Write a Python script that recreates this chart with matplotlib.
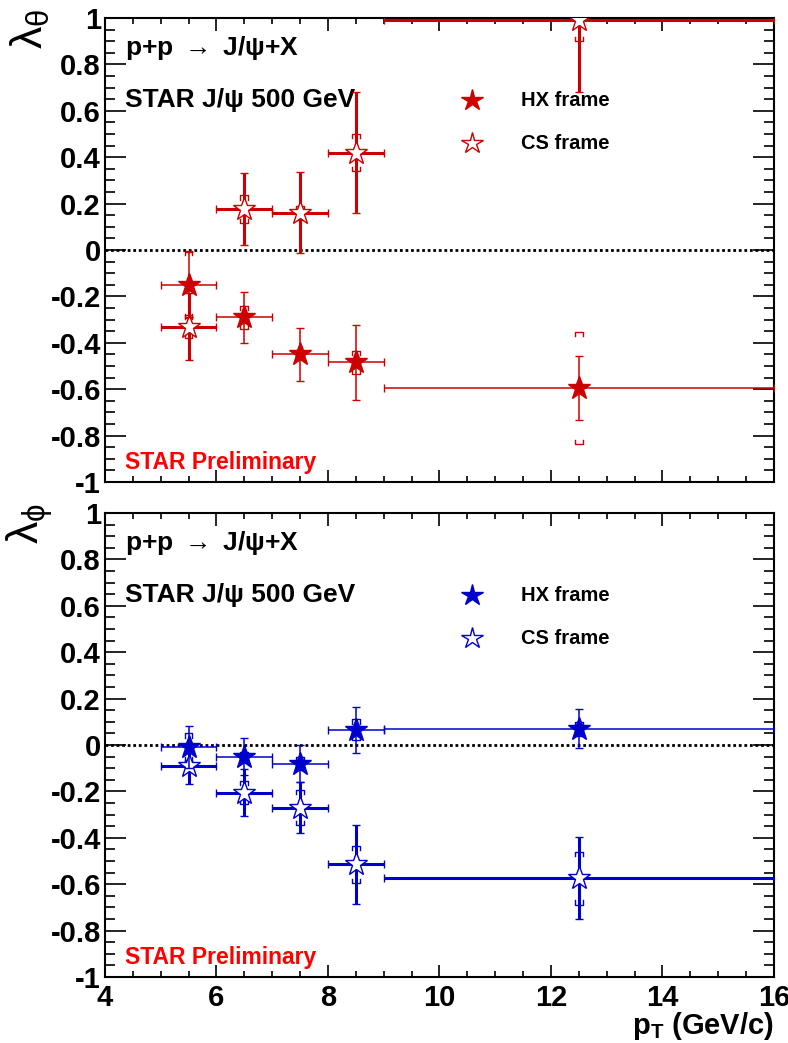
import numpy as np
import matplotlib.pyplot as plt
from matplotlib.ticker import MultipleLocator, FuncFormatter

plt.rcParams['font.family'] = ['Liberation Sans', 'DejaVu Sans']
plt.rcParams['font.weight'] = 'bold'
plt.rcParams['axes.unicode_minus'] = False
plt.rcParams['mathtext.fontset'] = 'custom'
plt.rcParams['mathtext.rm'] = 'Liberation Sans:weight=bold'
plt.rcParams['mathtext.bf'] = 'Liberation Sans:weight=bold'
plt.rcParams['mathtext.it'] = 'Liberation Sans:weight=normal'

# pT bins (GeV/c)
pt = np.array([5.5, 6.5, 7.5, 8.5, 12.5])
pt_lo = np.array([5, 6, 7, 8, 9])
pt_hi = np.array([6, 7, 8, 9, 16])

# lambda_theta
lth_hx = np.array([-0.15, -0.29, -0.45, -0.485, -0.595])
lth_hx_stat = np.array([0.14, 0.11, 0.115, 0.16, 0.14])
lth_hx_sys = np.array([0.145, 0.05, 0.02, 0.05, 0.24])
lth_cs = np.array([-0.33, 0.175, 0.16, 0.42, 0.99])
lth_cs_stat = np.array([0.145, 0.155, 0.175, 0.26, 0.31])
lth_cs_sys = np.array([0.05, 0.06, 0.03, 0.08, 0.09])

# lambda_phi
lph_hx = np.array([-0.01, -0.05, -0.08, 0.065, 0.07])
lph_hx_stat = np.array([0.09, 0.08, 0.08, 0.10, 0.085])
lph_hx_sys = np.array([0.06, 0.02, 0.03, 0.045, 0.03])
lph_cs = np.array([-0.09, -0.205, -0.27, -0.515, -0.575])
lph_cs_stat = np.array([0.08, 0.10, 0.11, 0.172, 0.177])
lph_cs_sys = np.array([0.025, 0.05, 0.075, 0.08, 0.113])

RED = '#cc0000'
BLUE = '#0000cc'


def sys_brackets(ax, x, y, s, color, lw):
    w, h = 0.07, 0.018
    for xi, yi, si in zip(x, y, s):
        for sign in (1, -1):
            yb = yi + sign * si
            ax.plot([xi - w, xi - w, xi + w, xi + w],
                    [yb - sign * h, yb, yb, yb - sign * h],
                    color=color, lw=lw, zorder=3)


def draw_panel(ax, hx, hx_stat, hx_sys, cs, cs_stat, cs_sys, color, ylab):
    xerr = [pt - pt_lo, pt_hi - pt]
    ax.axhline(0, color='k', ls=(0, (1, 1)), lw=2, zorder=1)

    sys_brackets(ax, pt, cs, cs_sys, color, 1.0)
    sys_brackets(ax, pt, hx, hx_sys, color, 1.0)
    ax.errorbar(pt, cs, xerr=xerr, yerr=cs_stat, fmt='*', ms=17,
                color=color, mfc='white', mec=color, mew=1.0,
                elinewidth=2.2, capsize=3.2, capthick=2.2, zorder=4)
    ax.errorbar(pt, hx, xerr=xerr, yerr=hx_stat, fmt='*', ms=17,
                color=color, mfc=color, mec=color, mew=1.0,
                elinewidth=1.1, capsize=3.2, capthick=1.1, zorder=5)

    ax.set_xlim(4, 16)
    ax.set_ylim(-1, 1)
    ax.xaxis.set_major_locator(MultipleLocator(2))
    ax.xaxis.set_minor_locator(MultipleLocator(0.5))
    ax.yaxis.set_major_locator(MultipleLocator(0.2))
    ax.yaxis.set_minor_locator(MultipleLocator(0.05))
    ax.yaxis.set_major_formatter(FuncFormatter(lambda v, p: '%g' % round(v, 2)))
    ax.tick_params(which='both', direction='in', top=True, right=True,
                   width=1.2, labelsize=21)
    ax.tick_params(axis='x', which='major', length=9, pad=5)
    ax.tick_params(axis='x', which='minor', length=4.5)
    ax.tick_params(axis='y', which='major', length=15, pad=3)
    ax.tick_params(axis='y', which='minor', length=7.5)
    for sp in ax.spines.values():
        sp.set_linewidth(1.5)

    ax.text(0.03, 0.935, 'p+p $\\rightarrow$ J/ψ+X', transform=ax.transAxes,
            fontsize=19, va='center', ha='left')
    ax.text(0.03, 0.823, 'STAR J/ψ 500 GeV', transform=ax.transAxes,
            fontsize=19, va='center', ha='left')
    ax.plot([0.5486], [0.823], marker='*', ms=16, color=color,
            transform=ax.transAxes, clip_on=False)
    ax.plot([0.5486], [0.73], marker='*', ms=16, color=color, mfc='white',
            mew=1.0, transform=ax.transAxes, clip_on=False)
    ax.text(0.622, 0.823, 'HX frame', transform=ax.transAxes,
            fontsize=14.5, va='center', ha='left')
    ax.text(0.622, 0.73, 'CS frame', transform=ax.transAxes,
            fontsize=14.5, va='center', ha='left')
    ax.text(0.03, 0.043, 'STAR Preliminary', transform=ax.transAxes,
            fontsize=16.5, color='#ff0000', va='center', ha='left')
    ax.text(-0.112, 1.02, ylab, transform=ax.transAxes, rotation=90,
            fontsize=32, ha='center', va='top')


fig = plt.figure(figsize=(7.88, 10.43), dpi=100)
ax1 = fig.add_axes([0.1332, 0.5379, 0.849, 0.4449])
ax2 = fig.add_axes([0.1332, 0.0633, 0.849, 0.4449])

draw_panel(ax1, lth_hx, lth_hx_stat, lth_hx_sys, lth_cs, lth_cs_stat,
           lth_cs_sys, RED, r'$\mathit{\lambda}_{\mathit{\theta}}$')
draw_panel(ax2, lph_hx, lph_hx_stat, lph_hx_sys, lph_cs, lph_cs_stat,
           lph_cs_sys, BLUE, r'$\mathit{\lambda}_{\mathit{\phi}}$')
ax1.tick_params(labelbottom=False)

fig.text(0.982, 0.016, r'$\mathrm{p_{T}}$ (GeV/c)', ha='right', va='center',
         fontsize=21)

fig.savefig('out.png', dpi=100)
